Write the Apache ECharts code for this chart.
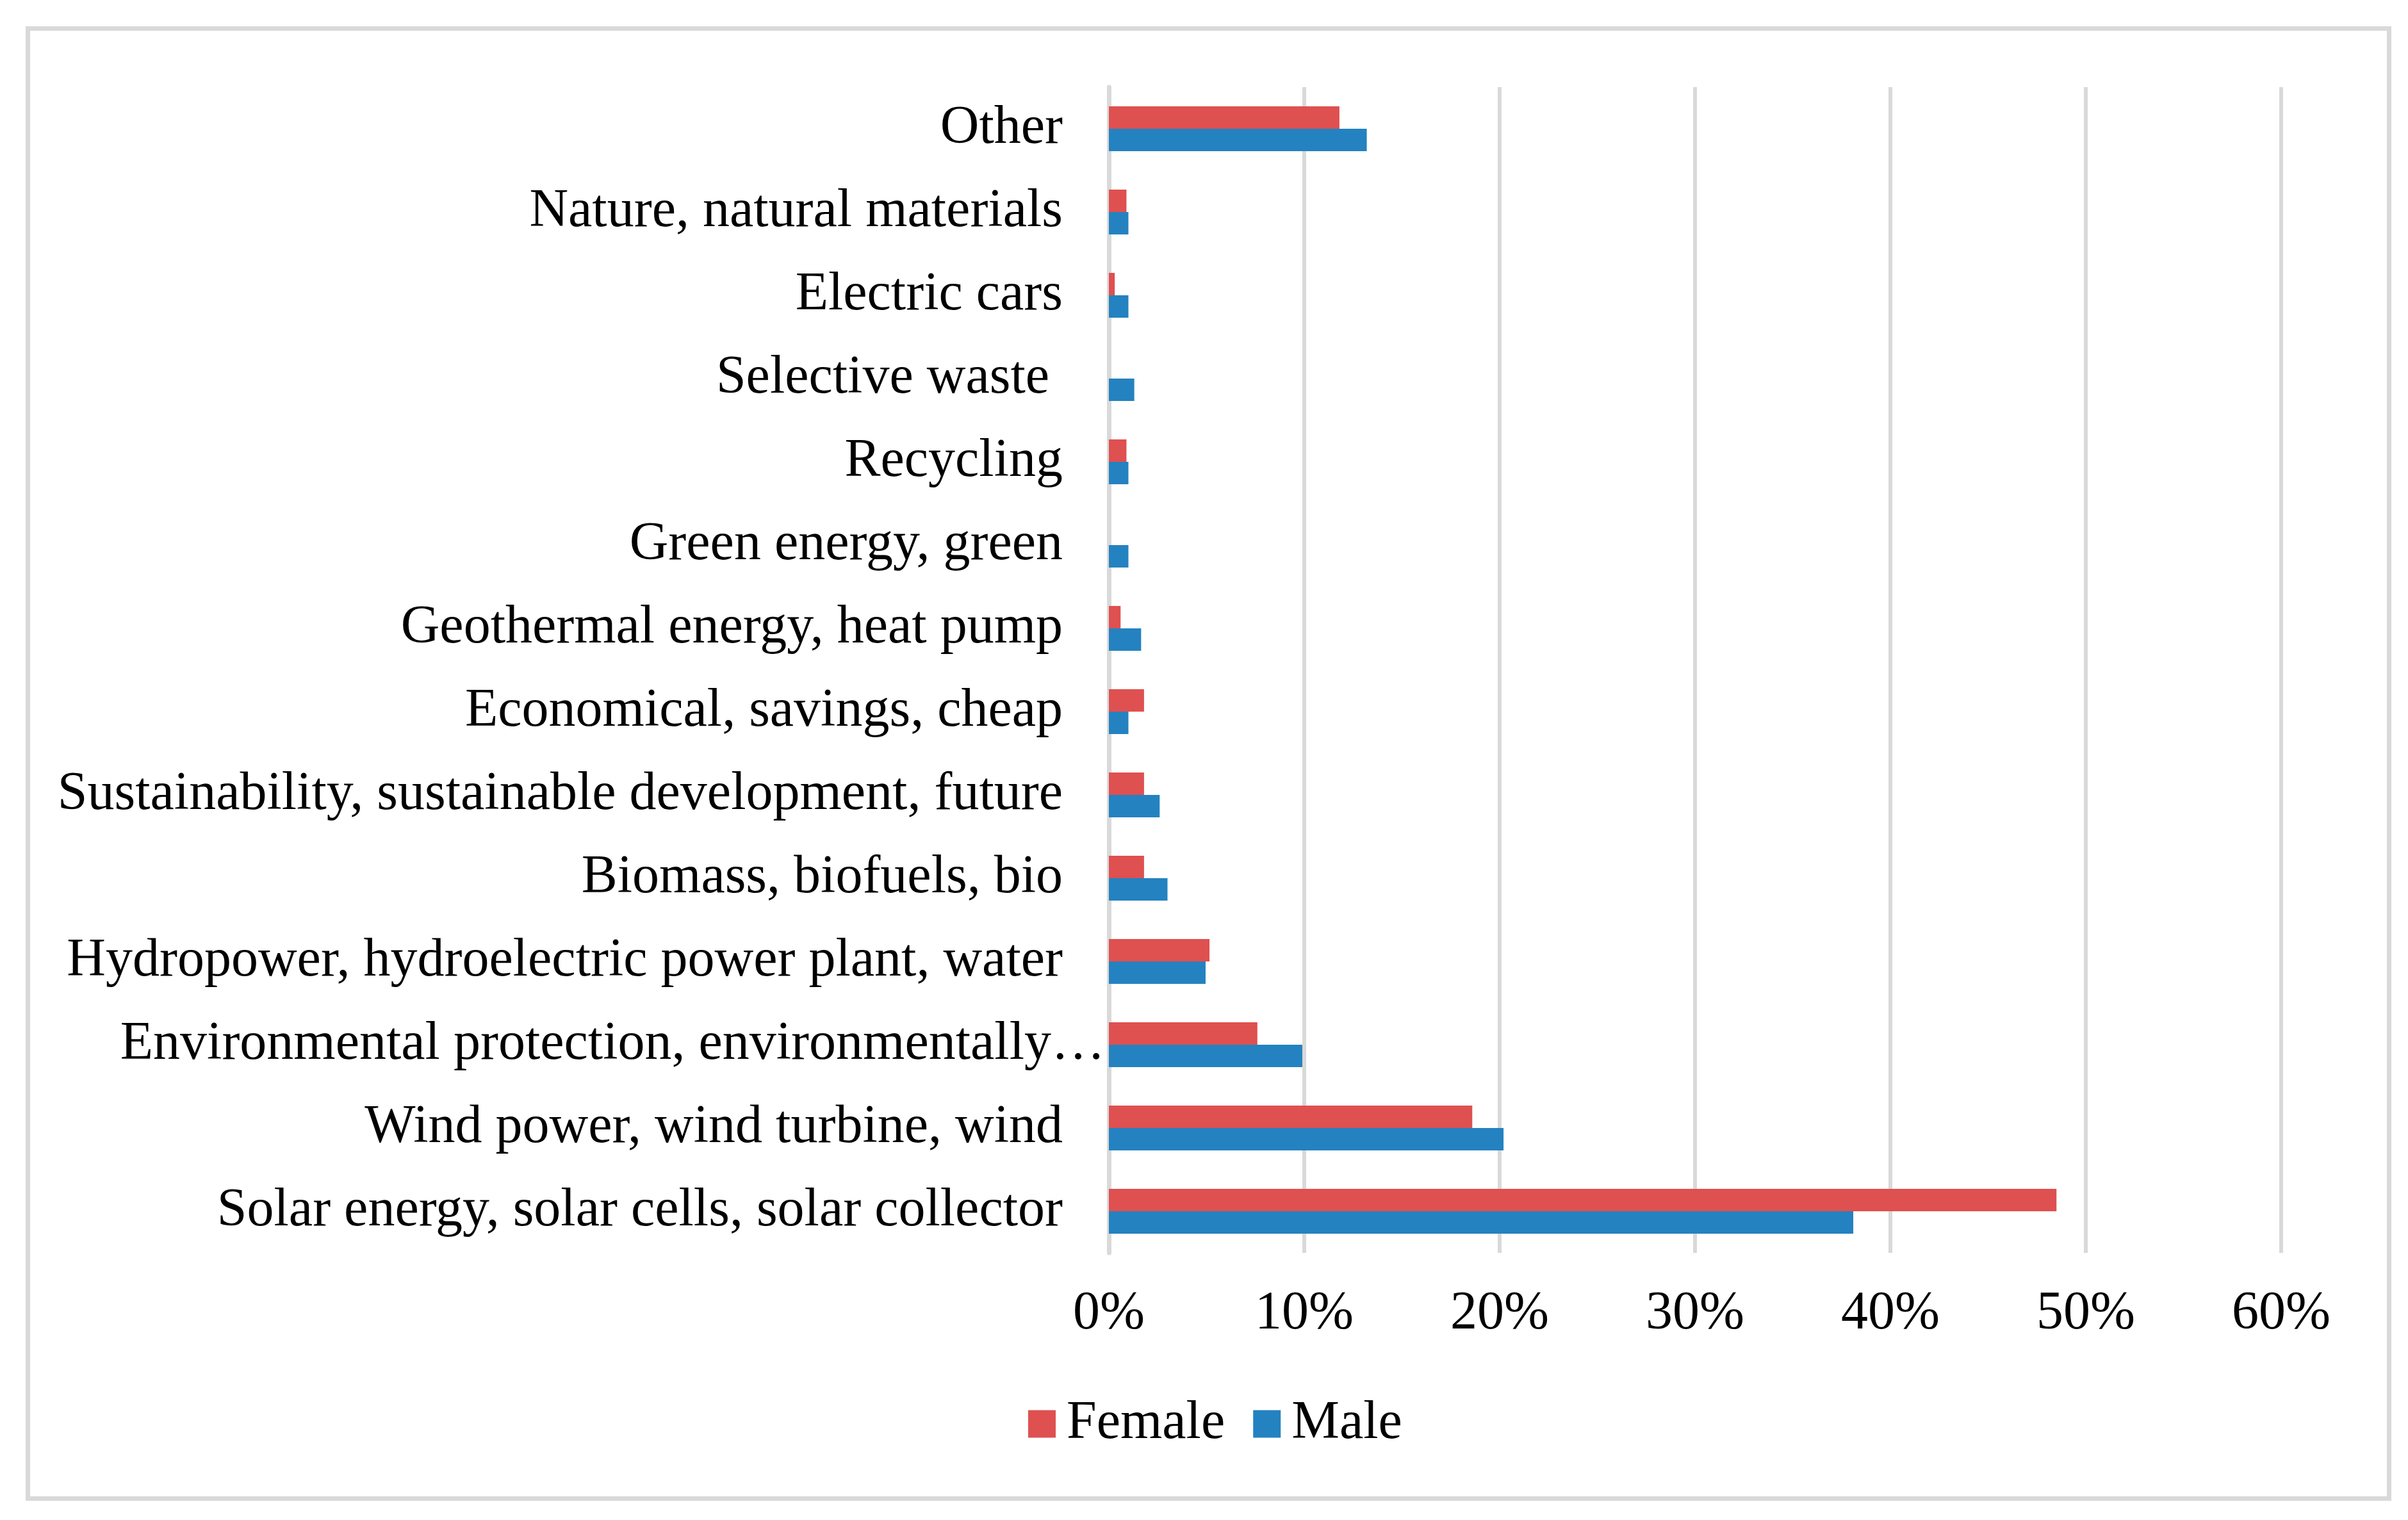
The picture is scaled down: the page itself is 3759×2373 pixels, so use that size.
<!DOCTYPE html>
<html>
<head>
<meta charset="utf-8">
<script src="https://cdn.jsdelivr.net/npm/echarts@6/dist/echarts.min.js"></script>
<style>
  html, body { margin: 0; padding: 0; background: #fff; }
  #chart { width: 3759px; height: 2373px; }
</style>
</head>
<body>
<div id="chart"></div>
<script>
// categories listed bottom -> top (category axis starts at the bottom)
const categories = [
  'Solar energy, solar cells, solar collector',
  'Wind power, wind turbine, wind',
  'Environmental protection, environmentally\u2026',
  'Hydropower, hydroelectric power plant, water',
  'Biomass, biofuels, bio',
  'Sustainability, sustainable development, future',
  'Economical, savings, cheap',
  'Geothermal energy, heat pump',
  'Green energy, green',
  'Recycling',
  'Selective waste ',
  'Electric cars',
  'Nature, natural materials',
  'Other'
]

// percent of respondents
const female = [48.5, 18.6, 7.6, 5.15, 1.8, 1.8, 1.8, 0.6, 0, 0.9, 0, 0.3, 0.9, 11.8]
const male = [38.1, 20.2, 9.9, 4.95, 3.0, 2.6, 1.0, 1.65, 1.0, 1.0, 1.3, 1.0, 1.0, 13.2]

const xTicks = [0, 10, 20, 30, 40, 50, 60]

const FONT = '"Liberation Serif", "Times New Roman", serif'
const GRID_GRAY = '#d9d9d9'

// the truncated label runs up to the axis, the others stop short of it
const TRUNCATED = categories[2]

const chart = echarts.init(document.getElementById('chart'))

chart.setOption({
  backgroundColor: '#ffffff',
  animation: false,
  textStyle: { fontFamily: FONT },

  graphic: [
    {
      type: 'rect',
      shape: { x: 43.5, y: 44.5, width: 3686, height: 2295 },
      style: { fill: 'none', stroke: GRID_GRAY, lineWidth: 7 },
      silent: true
    }
  ],

  grid: {
    left: 1731,
    right: 198,
    top: 136,
    bottom: 417,
    containLabel: false
  },

  legend: {
    data: ['Female', 'Male'],
    left: 1600,
    top: 2176,
    itemWidth: 43,
    itemHeight: 43,
    itemGap: 44,
    icon: 'rect',
    textStyle: {
      fontFamily: FONT,
      fontSize: 84,
      color: '#000',
      padding: [0, 0, 0, 12]
    }
  },

  xAxis: {
    type: 'value',
    min: xTicks[0],
    max: xTicks[xTicks.length - 1],
    interval: 10,
    axisLine: { show: false },
    axisTick: { show: false },
    axisLabel: {
      formatter: '{value}%',
      fontFamily: FONT,
      fontSize: 84,
      color: '#000',
      margin: 54
    },
    splitLine: {
      show: true,
      lineStyle: { color: GRID_GRAY, width: 6 }
    }
  },

  yAxis: {
    type: 'category',
    data: categories,
    axisLine: {
      show: true,
      lineStyle: { color: GRID_GRAY, width: 7 }
    },
    axisTick: { show: false },
    axisLabel: {
      fontFamily: FONT,
      fontSize: 84,
      color: '#000',
      margin: 6,
      formatter: v => (v === TRUNCATED ? `{e|${v}}` : `{n|${v}}`),
      rich: {
        n: { fontFamily: FONT, fontSize: 84, color: '#000', padding: [0, 66, 0, 0] },
        e: { fontFamily: FONT, fontSize: 84, color: '#000' }
      }
    },
    splitLine: { show: false }
  },

  series: [
    {
      name: 'Female',
      type: 'bar',
      data: female,
      barWidth: 35,
      barGap: '0%',
      itemStyle: { color: '#df5050' }
    },
    {
      name: 'Male',
      type: 'bar',
      data: male,
      barWidth: 35,
      barGap: '0%',
      itemStyle: { color: '#2482c0' }
    }
  ]
})
</script>
</body>
</html>
